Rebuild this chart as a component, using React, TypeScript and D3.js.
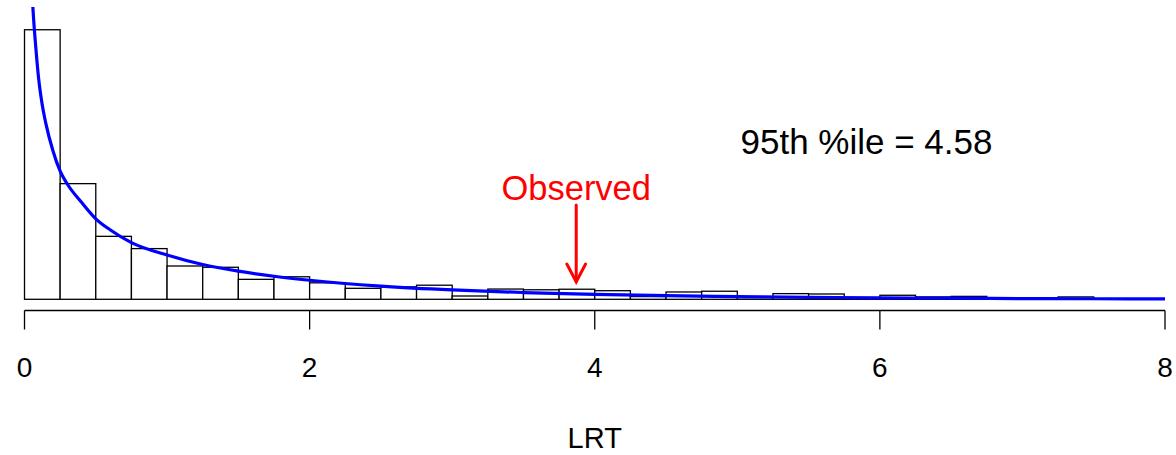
import React from "react";
import * as d3 from "d3";

// Histogram of simulated LRT values (density per 0.25-wide bin, 0 to 8)
const binStart = 0;
const binWidth = 0.25;
const binDensity = [
  1.473, 0.632, 0.344, 0.277, 0.182, 0.175, 0.109, 0.123,
  0.09, 0.06, 0.068, 0.077, 0.018, 0.056, 0.052, 0.055,
  0.047, 0.015, 0.04, 0.044, 0.01, 0.031, 0.029, 0.005,
  0.022, 0.013, 0.016, 0.008, 0.008, 0.013, 0, 0,
];

// Reference density curve (x, density)
const curveX = [
  0.04, 0.05, 0.06, 0.08, 0.1, 0.125, 0.15, 0.2, 0.25, 0.3, 0.4, 0.5, 0.6,
  0.75, 1.0, 1.25, 1.5, 1.75, 2.0, 2.5, 3.0, 3.5, 4.0, 4.5, 5.0, 5.5, 6.0,
  6.5, 7.0, 7.5, 8.0,
];
const curveY = [
  1.94, 1.73, 1.58, 1.37, 1.2, 1.06, 0.96, 0.81, 0.7, 0.63, 0.53, 0.44, 0.38,
  0.31, 0.242, 0.19, 0.154, 0.126, 0.104, 0.072, 0.051, 0.037, 0.027, 0.02,
  0.015, 0.011, 0.008, 0.006, 0.004, 0.003, 0.002,
];

const xTicks = [0, 2, 4, 6, 8];
const xLabel = "LRT";

const observedValue = 3.87;
const observedLabel = "Observed";
const percentileLabel = "95th %ile = 4.58";

const W = 1176;
const H = 455;
const FONT = "'Liberation Sans', Arial, Helvetica, sans-serif";

export default function App() {
  const x = d3.scaleLinear().domain([0, 8]).range([24.5, 1165]);
  const y = d3.scaleLinear().domain([0, 1.5]).range([299.3, 299.3 - 1.5 * 183]);

  const axisY = 310.5;
  const tickLen = 19;

  const line = d3
    .line<number>()
    .x((_, i) => x(curveX[i]))
    .y((d) => y(d))
    .curve(d3.curveMonotoneX);

  const arrowTop = y(0.515);
  const arrowTip = y(0.096);
  const ax = x(observedValue);
  const headLen = 20;
  const headAng = (28 * Math.PI) / 180;

  return (
    <div style={{ position: "fixed", left: 0, top: 0 }}>
      <svg width={W} height={H} style={{ display: "block", background: "#fff" }}>
        <defs>
          <clipPath id="plotClip">
            <rect x={0} y={7} width={W} height={axisY - 7} />
          </clipPath>
        </defs>

        {/* histogram bars */}
        <g>
          {binDensity.map((d, i) => {
            const x0 = x(binStart + i * binWidth);
            const x1 = x(binStart + (i + 1) * binWidth);
            return (
              <rect
                key={i}
                x={x0}
                y={y(d)}
                width={x1 - x0}
                height={y(0) - y(d)}
                fill="#fff"
                stroke="#000"
                strokeWidth={1.3}
              />
            );
          })}
        </g>

        {/* density curve */}
        <path
          d={line(curveY) || ""}
          fill="none"
          stroke="#0000ff"
          strokeWidth={3.2}
          clipPath="url(#plotClip)"
        />

        {/* x axis */}
        <g stroke="#000" strokeWidth={1.3}>
          <line x1={x(xTicks[0])} x2={x(xTicks[xTicks.length - 1])} y1={axisY} y2={axisY} />
          {xTicks.map((t) => (
            <line key={t} x1={x(t)} x2={x(t)} y1={axisY} y2={axisY + tickLen} />
          ))}
        </g>
        <g fontFamily={FONT} fontSize={28} fill="#000" textAnchor="middle">
          {xTicks.map((t) => (
            <text key={t} x={x(t)} y={377}>
              {t}
            </text>
          ))}
          <text x={(x(0) + x(8)) / 2} y={448} fontSize={29}>
            {xLabel}
          </text>
        </g>

        {/* annotations */}
        <text
          x={866.5}
          y={154}
          fontFamily={FONT}
          fontSize={35}
          textAnchor="middle"
          fill="#000"
        >
          {percentileLabel}
        </text>

        <text
          x={ax}
          y={200}
          fontFamily={FONT}
          fontSize={34.5}
          textAnchor="middle"
          fill="#ff0000"
        >
          {observedLabel}
        </text>
        <g stroke="#ff0000" strokeWidth={3} fill="none" strokeLinecap="round">
          <line x1={ax} x2={ax} y1={arrowTop} y2={arrowTip} />
          <polyline
            points={`${ax - headLen * Math.sin(headAng)},${arrowTip - headLen * Math.cos(headAng)} ${ax},${arrowTip} ${ax + headLen * Math.sin(headAng)},${arrowTip - headLen * Math.cos(headAng)}`}
          />
        </g>
      </svg>
    </div>
  );
}
